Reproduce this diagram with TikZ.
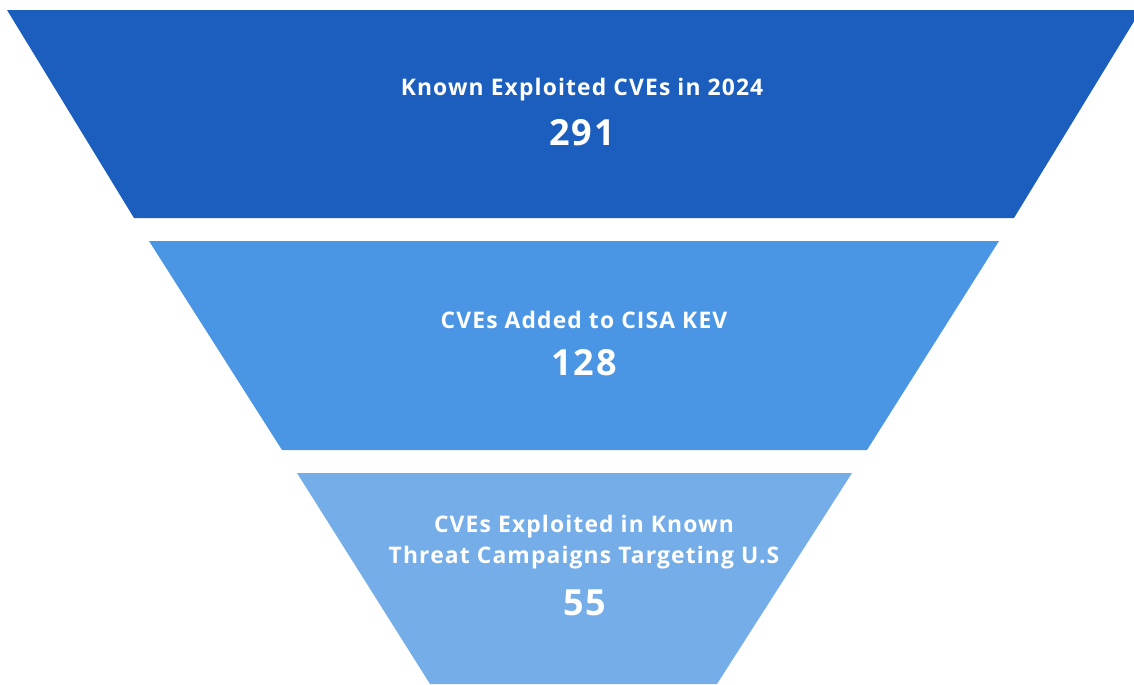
\documentclass[tikz,border=0pt]{standalone}
\usepackage{fontspec}
\setmainfont{Open Sans}
\newfontfamily\funnelfont[LetterSpace=5]{Open Sans}
\usetikzlibrary{positioning}

\definecolor{topblue}{RGB}{27,94,190}
\definecolor{midblue}{RGB}{74,149,228}
\definecolor{lowblue}{RGB}{117,173,233}

\begin{document}
\begin{tikzpicture}[x=0.02cm, y=-0.02cm,
        label/.style={text=white, font=\funnelfont\bfseries\fontsize{13}{17.6}\selectfont, align=center, inner sep=0pt},
        count/.style={text=white, font=\funnelfont\bfseries\fontsize{20.5}{22}\selectfont, inner sep=0pt},
        node distance=8.5mm]
        \useasboundingbox (0,0) rectangle (1134,684);

        \fill[topblue] (7,10) -- (1141,10) -- (1014,218) -- (134,218) -- cycle;
        \fill[midblue] (149,241) -- (999,241) -- (867,450) -- (282,450) -- cycle;
        \fill[lowblue] (297,473) -- (852,473) -- (717,684) -- (430,684) -- cycle;

        \node[label] (known) at (582,90) {Known Exploited CVEs in 2024};
        \node[count, below=of known.center, anchor=center] (n291) {291};

        \node[label] (kev) at (584,320) {CVEs Added to CISA KEV};
        \node[count, below=of kev.center, anchor=center] (n128) {128};

        \node[label] (camp) at (584,542) {CVEs Exploited in Known\\Threat Campaigns Targeting U.S};
        \node[count] (n55) at (585,603) {55};
      \end{tikzpicture}
\end{document}
